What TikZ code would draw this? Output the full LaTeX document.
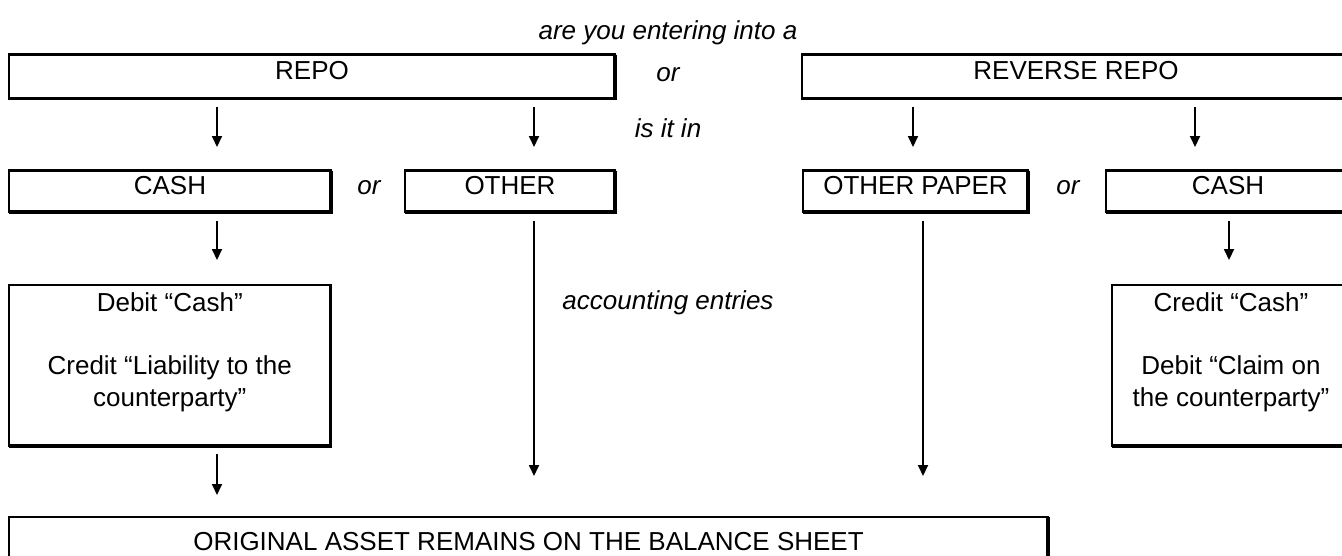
\documentclass[tikz,border=0pt]{standalone}
\usepackage{fontspec}
\setmainfont{Liberation Sans}
\usetikzlibrary{arrows.meta}

\tikzset{
  box/.style={draw, line width=1.2pt, outer sep=0pt, inner sep=0pt, text depth=0.24cm},
  heavy/.style={line width=2.2pt},
  link/.style={-{Triangle[width=0.2cm,length=0.22cm]}, line width=1pt,
    shorten <=0.17cm, shorten >=0.47cm},
  note/.style={font=\itshape},
  entry/.style={anchor=north, align=center, inner sep=0pt, yshift=-0.14cm}
}

\begin{document}
\fontsize{14.8}{18}\selectfont
\begin{tikzpicture}[x=0.02cm, y=-0.02cm]
  \useasboundingbox (0,0) rectangle (1342,555);

  \node[box, minimum width=12.12cm, minimum height=0.88cm] (repo) at (312,76.5) {REPO};
  \node[box, minimum width=10.96cm, minimum height=0.88cm] (rrepo) at (1076,76.5) {REVERSE REPO};
  \node[box, minimum width=6.43cm, minimum height=0.83cm] (cashl) at (170,191.25) {CASH};
  \node[box, minimum width=4.2cm, minimum height=0.83cm] (other) at (510,191.25) {OTHER};
  \node[box, minimum width=4.5cm, minimum height=0.83cm] (paper) at (915.5,191.25) {OTHER PAPER};
  \node[box, minimum width=4.88cm, minimum height=0.83cm] (cashr) at (1228,191.25) {CASH};
  \node[box, minimum width=6.43cm, minimum height=3.22cm] (debit) at (169.75,365.5) {};
  \node[box, minimum width=4.76cm, minimum height=3.22cm] (credit) at (1231,365.5) {};
  \node[box, minimum width=20.78cm, minimum height=1.2cm] (orig) at (528.5,547) {ORIGINAL ASSET REMAINS ON THE BALANCE SHEET};

  \node[entry] (debittxt) at (debit.north) {Debit “Cash”\\[18pt]Credit “Liability to the\\counterparty”};
  \node[entry] (credittxt) at (credit.north) {Credit “Cash”\\[18pt]Debit “Claim on\\the counterparty”};

  % shadow edges
  \foreach \n in {repo,rrepo,cashl,other,paper,cashr,debit,credit,orig}
    \draw[heavy] (\n.north east) |- (\n.south west);

  \node[note] (title) at (668,33) {are you entering into a};
  \node[note] (or1) at (668,75) {or};
  \node[note] (isin) at (668,128) {is it in};
  \node[note] (or2) at (369,187.5) {or};
  \node[note] (or3) at (1068,187.5) {or};
  \node[note] (acct) at (668,303) {accounting entries};

  \coordinate (c1) at (217,0);
  \coordinate (c2) at (534,0);
  \coordinate (c3) at (913,0);
  \coordinate (c4) at (923,0);
  \coordinate (c5) at (1195,0);
  \coordinate (c6) at (1229,0);

  \draw[link] (repo.south -| c1) -- (cashl.north -| c1);
  \draw[link] (repo.south -| c2) -- (other.north -| c2);
  \draw[link] (rrepo.south -| c3) -- (paper.north -| c3);
  \draw[link] (rrepo.south -| c5) -- (cashr.north -| c5);
  \draw[link, shorten >=0.5cm] (cashl.south -| c1) -- (debit.north -| c1);
  \draw[link, shorten >=0.5cm] (cashr.south -| c6) -- (credit.north -| c6);
  \draw[link, shorten >=0.44cm] (debit.south -| c1) -- (orig.north -| c1);
  \draw[link, shorten >=0.82cm] (other.south -| c2) -- (orig.north -| c2);
  \draw[link, shorten >=0.82cm] (paper.south -| c4) -- (orig.north -| c4);
\end{tikzpicture}
\end{document}
